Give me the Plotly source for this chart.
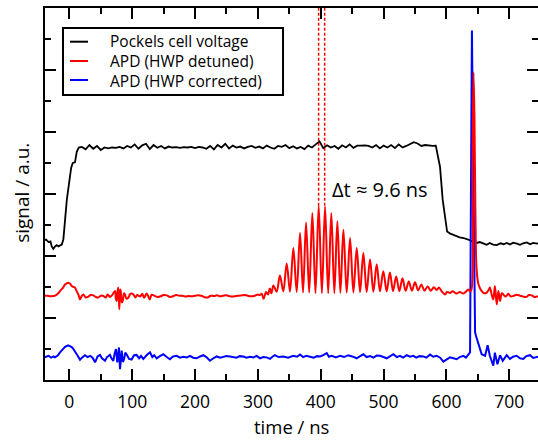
import plotly.graph_objects as go

# ---- data (time in ns, signal in a.u.) ----
# Pockels cell voltage: rise, plateau (sampled every 6 ns from 20 ns), fall
pockels_rise_t = [-40, -37, -33, -30, -28, -25.5, -22.7, -20, -17.5, -14, -12, -9.5, -8, -4, 1, 3, 5.4, 9, 11.8, 15]
pockels_rise_v = [4.50, 4.53, 4.45, 4.47, 4.31, 4.23, 4.31, 4.35, 4.31, 4.36, 4.37, 4.53, 4.96, 5.81, 6.56, 6.85, 7.00, 7.02, 7.36, 7.50]
pockels_plateau_start = 20
pockels_plateau_step = 6
pockels_plateau_v = [
    7.52, 7.44, 7.58, 7.46, 7.55, 7.42, 7.50, 7.47, 7.50, 7.49, 7.52, 7.47, 7.55, 7.50, 7.60, 7.46,
    7.57, 7.62, 7.45, 7.58, 7.49, 7.55, 7.47, 7.53, 7.50, 7.51, 7.49, 7.51, 7.50, 7.52, 7.48, 7.52,
    7.50, 7.46, 7.55, 7.44, 7.58, 7.50, 7.62, 7.47, 7.56, 7.50, 7.53, 7.47, 7.52, 7.55, 7.49, 7.53,
    7.47, 7.56, 7.50, 7.46, 7.55, 7.52, 7.58, 7.48, 7.54, 7.47, 7.52, 7.45, 7.56, 7.50, 7.60, 7.70,
    7.48, 7.57, 7.50, 7.55, 7.46, 7.57, 7.50, 7.60, 7.49, 7.56, 7.56, 7.57, 7.55, 7.50, 7.58, 7.47,
    7.56, 7.50, 7.58, 7.48, 7.60, 7.50, 7.55, 7.62, 7.67, 7.63, 7.55, 7.58, 7.56, 7.55,
]
pockels_fall_t = [583, 589.7, 594, 597.7, 601, 606, 611, 616, 621, 627, 632, 637, 642, 648, 653, 659, 664, 669,
                  674, 680, 686, 691, 696, 701, 706, 712, 717, 722, 728, 733, 738, 744, 748]
pockels_fall_v = [7.56, 6.88, 5.81, 5.17, 4.79, 4.72, 4.68, 4.66, 4.60, 4.58, 4.55, 4.51, 4.46, 4.42, 4.45, 4.40,
                  4.36, 4.42, 4.37, 4.35, 4.41, 4.38, 4.42, 4.37, 4.43, 4.40, 4.36, 4.41, 4.44, 4.38, 4.42, 4.40, 4.42]

# APD, HWP detuned
detuned_t = [
    -40, -35, -30, -25, -22.7, -18, -14.8, -10, -6.8, -1.6, 1.5, 3.8, 7, 9, 12, 14.3, 17, 19.5, 22.3, 26, 30.2,
    34, 38.2, 42, 46, 50, 54, 58, 61, 64.7, 68, 72.7, 74, 75.4, 77, 78, 79.5, 81, 81.8, 83.5, 85, 87, 88.6, 91,
    94, 97, 101.8, 105, 108, 112.5, 116, 119, 123, 126, 128, 131,
    135, 140, 145, 150, 155, 160, 165, 170, 175, 180, 185, 190, 195, 200, 205, 210, 215, 220, 225, 230, 235,
    240, 245, 250, 255, 260, 265, 270, 275, 280, 285, 290, 295, 300,
    303, 306, 309, 313, 316, 319, 321.5, 324.6, 329.8, 335, 340.4, 345.8, 351, 356.4, 361.7, 367, 371.8,
    376.6, 381.6, 386.6, 391.6, 396.7, 401.8, 406.8, 411.8, 416.8, 421.6, 426.4, 431.2, 436, 441.3, 446.6,
    451.9, 457.2, 462.5, 467.7, 473, 478.4, 483.7, 489, 494.2, 499.5, 504.8, 510, 515, 520, 525, 530, 535,
    540, 545, 550, 555, 560, 565, 570, 575, 580, 584.5, 588, 592.4, 597.7, 601, 605.6, 610, 616, 621, 626.8,
    631, 634.7, 637.5, 639.5, 641.5, 643, 644.5, 646, 648, 651, 656, 660, 664, 667, 669, 672, 674.5, 677,
    680, 682.6, 685.2, 688, 690.5, 694, 698.4, 702, 706.4, 711, 717, 722, 727.6, 731, 735.5, 740, 743.6, 748,
]
detuned_v = [
    2.71, 2.72, 2.70, 2.71, 2.72, 2.79, 2.87, 2.98, 3.08, 3.14, 3.10, 3.03, 3.00, 2.98, 2.85, 2.76, 2.60,
    2.70, 2.76, 2.66, 2.69, 2.74, 2.73, 2.68, 2.66, 2.72, 2.71, 2.66, 2.76, 2.68, 2.74, 2.87, 2.62, 2.55,
    2.90, 2.98, 2.28, 2.92, 2.87, 2.50, 2.55, 2.80, 2.76, 2.62, 2.66, 2.78, 2.76, 2.66, 2.74, 2.69, 2.78,
    2.65, 2.79, 2.68, 2.60, 2.75,
    2.72, 2.68, 2.70, 2.74, 2.73, 2.68, 2.70, 2.74, 2.72, 2.72, 2.69, 2.71, 2.70, 2.72, 2.73, 2.72, 2.67,
    2.66, 2.72, 2.71, 2.73, 2.70, 2.72, 2.73, 2.70, 2.69, 2.71, 2.72, 2.73, 2.74, 2.71, 2.70, 2.72, 2.76,
    2.74, 2.78, 2.62, 2.84, 2.76, 2.95, 2.80, 3.05, 2.85, 3.37, 2.86, 3.76, 2.85, 4.26, 2.84, 4.74, 2.82,
    5.08, 2.82, 5.39, 2.80, 5.62, 2.80, 5.60, 2.80, 5.39, 2.80, 5.12, 2.81, 4.85, 2.82, 4.58, 2.82, 4.26,
    2.83, 4.10, 2.84, 3.89, 2.85, 3.73, 2.86, 3.51, 2.86, 3.47, 2.87, 3.34, 2.87, 3.28, 2.88, 3.18, 2.88,
    3.15, 2.89, 3.08, 2.88, 3.02, 2.88, 2.99, 2.90, 2.98, 2.86, 2.76, 2.84, 2.81, 2.86, 2.79, 2.84, 2.79,
    2.85, 2.92, 2.86, 2.90, 7.00, 9.93, 8.50, 5.50, 3.56, 3.08, 2.87, 2.80, 2.82, 2.90, 2.98, 2.75, 2.60,
    3.03, 2.44, 2.87, 2.55, 2.80, 2.76, 2.69, 2.78, 2.70, 2.71, 2.75, 2.72, 2.69, 2.68, 2.74, 2.73, 2.68,
    2.69, 2.72,
]

# APD, HWP corrected
corrected_t = [
    -40, -37, -33, -29, -25, -22.7, -18, -14.8, -10, -6.8, -2, 1.1, 4, 6.4, 9, 11.8, 14.5, 17, 20, 25, 29,
    33, 37, 41, 45, 48.8, 52, 56.8, 60, 64.7, 67, 70, 72, 74.2, 76.3, 78, 79, 80.6, 82, 83.3, 85, 87, 89,
    91.3, 95, 99, 103, 107, 111, 114, 117.7, 121, 124, 128.4, 132, 135, 139, 144, 149.5, 155, 160, 165,
    170.8, 176, 181.4, 187, 192, 197, 202.5, 208, 213.2, 218, 223.8, 229, 234.4, 240, 245, 250, 255.6,
    261, 266, 271, 276.8, 282, 287.4, 293, 298, 303.4, 308.6, 314, 319.3, 323, 327, 333, 340.4, 348,
    356.4, 362, 367, 372, 377, 383, 389, 394, 399, 404, 409.5, 413, 417.5, 424, 430.6, 437, 443.9, 450,
    457.2, 462, 467.8, 473, 478.4, 484, 489, 494.3, 500, 505, 510, 515.5, 521, 526, 531, 536.7, 542,
    547.3, 552, 557, 563.2, 568, 573.8, 579, 584.4, 590, 595, 600, 605.6, 611, 616.3, 621, 626.9, 631,
    634.7, 637.5, 639.5, 640.5, 642, 644, 645.5, 647, 650.6, 656, 661.4, 665.5, 669, 674.5, 677, 681,
    685.2, 689.5, 695.8, 701, 706, 711.7, 717, 722.3, 727, 733, 738, 743.6, 748,
]
corrected_v = [
    0.73, 0.75, 0.78, 0.72, 0.76, 0.73, 0.80, 0.89, 0.98, 1.07, 1.12, 1.10, 1.06, 1.00, 0.90, 0.83, 0.74,
    0.65, 0.72, 0.80, 0.74, 0.78, 0.72, 0.57, 0.76, 0.81, 0.70, 0.62, 0.74, 0.81, 0.70, 0.62, 0.85, 1.00,
    0.57, 0.90, 1.05, 0.35, 0.75, 0.95, 0.58, 0.66, 0.88, 0.82, 0.68, 0.66, 0.80, 0.81, 0.70, 0.78, 0.68,
    0.76, 0.82, 0.89, 0.74, 0.80, 0.70, 0.77, 0.83, 0.74, 0.67, 0.76, 0.78, 0.72, 0.75, 0.73, 0.78, 0.72,
    0.70, 0.76, 0.80, 0.74, 0.62, 0.70, 0.76, 0.72, 0.75, 0.77, 0.76, 0.73, 0.72, 0.77, 0.76, 0.72, 0.75,
    0.73, 0.78, 0.70, 0.74, 0.73, 0.68, 0.75, 0.80, 0.74, 0.76, 0.72, 0.78, 0.75, 0.82, 0.74, 0.78, 0.75,
    0.72, 0.77, 0.76, 0.80, 0.87, 0.75, 0.78, 0.73, 0.78, 0.74, 0.80, 0.76, 0.70, 0.76, 0.83, 0.74, 0.77,
    0.72, 0.79, 0.78, 0.73, 0.70, 0.76, 0.83, 0.74, 0.78, 0.72, 0.80, 0.75, 0.78, 0.72, 0.77, 0.76, 0.72,
    0.82, 0.75, 0.78, 0.72, 0.59, 0.66, 0.73, 0.70, 0.67, 0.74, 0.78, 0.72, 0.80, 0.89, 8.00, 11.27, 8.00,
    2.50, 1.54, 1.42, 1.16, 0.83, 0.78, 1.12, 0.78, 0.46, 0.88, 0.51, 0.80, 0.62, 0.80, 0.68, 0.75, 0.78,
    0.70, 0.68, 0.77, 0.80, 0.71, 0.74, 0.76,
]

# period markers at two neighbouring maxima
dt_marker_t = [396.6, 406.2]
dt_marker_v = [5.62, 12]
dt_label = "\u0394t \u2248 9.6 ns"

series_names = ["Pockels cell voltage", "APD (HWP detuned)", "APD (HWP corrected)"]
series_colors = ["black", "#ff0000", "#0000ff"]

pockels_t = (pockels_rise_t
             + [pockels_plateau_start + pockels_plateau_step * i for i in range(len(pockels_plateau_v))]
             + pockels_fall_t)
pockels_v = pockels_rise_v + pockels_plateau_v + pockels_fall_v

font_family = "Open Sans"

fig = go.Figure()

fig.add_trace(go.Scatter(x=pockels_t, y=pockels_v, mode="lines", name=series_names[0],
                         line=dict(color=series_colors[0], width=1.8)))
fig.add_trace(go.Scatter(x=corrected_t, y=corrected_v, mode="lines", name=series_names[2],
                         line=dict(color=series_colors[2], width=2)))
fig.add_trace(go.Scatter(x=detuned_t, y=detuned_v, mode="lines", name=series_names[1],
                         line=dict(color=series_colors[1], width=2, shape="spline", smoothing=1)))

# dashed period markers
for t in dt_marker_t:
    fig.add_trace(go.Scatter(x=[t, t], y=dt_marker_v, mode="lines",
                             line=dict(color="#ff0000", width=1.5, dash="3px,2px")))

fig.add_annotation(x=414, y=6.13, text=dt_label, showarrow=False, xanchor="left", yanchor="middle",
                   font=dict(family=font_family, size=20, color="black"))

# legend box drawn by hand (compact rows like the original)
fig.add_shape(type="rect", xref="paper", yref="paper", x0=0.0365, x1=0.4828, y0=0.766, y1=0.946,
              line=dict(color="black", width=2), fillcolor="white", layer="above")
legend_rows = [0.9094, 0.8575, 0.8065]
for color, yr in zip(series_colors, legend_rows):
    fig.add_shape(type="line", xref="paper", yref="paper", x0=0.0507, x1=0.0872, y0=yr, y1=yr,
                  line=dict(color=color, width=2), layer="above")
fig.add_annotation(xref="paper", yref="paper", x=0.1278, y=legend_rows[1], text="<br>".join(series_names),
                   showarrow=False, xanchor="left", yanchor="middle", align="left",
                   font=dict(family=font_family, size=15.5, color="black"))

# axis titles
fig.add_annotation(xref="paper", yref="paper", x=0.501, y=-0.1263, text="time / ns", showarrow=False,
                   xanchor="center", yanchor="middle", font=dict(family=font_family, size=18.5, color="black"))
fig.add_annotation(xref="paper", yref="paper", x=-0.0467, y=0.503, text="signal / a.u.", showarrow=False,
                   textangle=-90, xanchor="center", yanchor="middle",
                   font=dict(family=font_family, size=19, color="black"))

axis_common = dict(
    showgrid=False, zeroline=False, showline=True, linecolor="black", linewidth=2,
    ticks="inside", ticklen=11, tickwidth=2, tickcolor="black", mirror="ticks", automargin=False,
)

fig.update_layout(
    width=538, height=441,
    margin=dict(l=45, r=0, t=8, b=61),
    plot_bgcolor="white", paper_bgcolor="white",
    font=dict(family=font_family, color="black"),
    showlegend=False,
    xaxis=dict(
        axis_common, range=[-38.7, 745.6], tick0=0, dtick=100,
        minor=dict(ticks="inside", ticklen=6, tickwidth=2, tickcolor="black", dtick=50, tick0=0),
        tickfont=dict(size=17.5), ticklabelstandoff=5,
    ),
    yaxis=dict(
        axis_common, range=[0, 12], tick0=0, dtick=2, showticklabels=False,
        minor=dict(ticks="inside", ticklen=6, tickwidth=2, tickcolor="black", dtick=1, tick0=0),
    ),
)

# the page's default body margin would push the fixed-size figure off the window
fig.write_html("out.html", config={"displayModeBar": False},
               post_script="document.body.style.margin = '0px';")
